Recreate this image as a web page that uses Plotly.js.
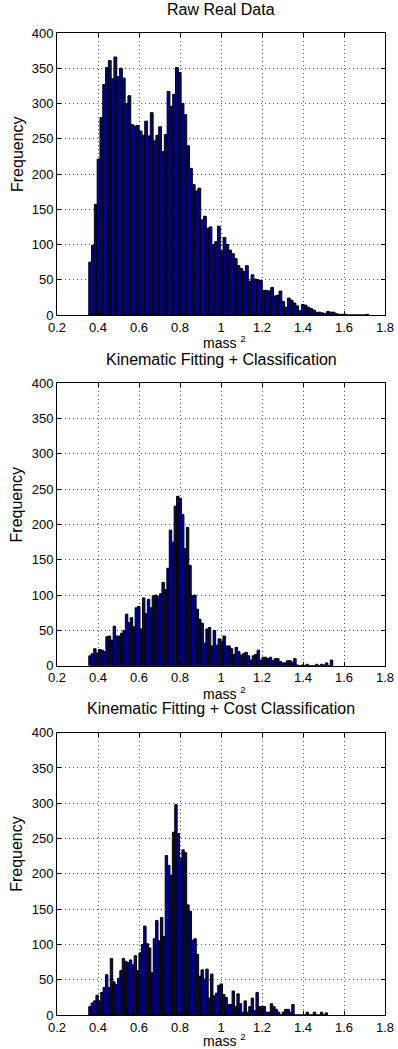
<!DOCTYPE html>
<html>
<head>
<meta charset="utf-8">
<script src="https://cdn.plot.ly/plotly-3.0.1.min.js"></script>
<style>html,body{margin:0;padding:0;background:#fff}#chart{width:398px;height:1049px}</style>
</head>
<body>
<div id="chart"></div>
<script>
// ---- data (100 bins per panel) ----
const panelTitles = ["Raw Real Data", "Kinematic Fitting + Classification", "Kinematic Fitting + Cost Classification"];
const binStarts = [0.355, 0.355, 0.355];
const binWidths = [0.01365, 0.0119, 0.01165];

const rawCounts = [
  75, 99, 157, 221, 280, 327, 351, 361, 335, 366,
  338, 350, 336, 300, 311, 270, 268, 269, 261, 255,
  275, 254, 287, 247, 255, 267, 232, 256, 317, 296,
  313, 351, 344, 300, 284, 240, 208, 185, 176, 180,
  135, 140, 123, 125, 100, 104, 126, 91, 110, 100,
  92, 87, 80, 70, 66, 62, 70, 48, 57, 51,
  50, 49, 35, 35, 34, 39, 27, 28, 34, 19,
  11, 24, 21, 17, 13, 6, 15, 14, 11, 9,
  7, 4, 4, 3, 2, 5, 4, 4, 2, 1,
  1, 1, 0, 0, 0, 0, 0, 0, 0, 1
];
const classCounts = [
  14, 17, 24, 18, 23, 22, 20, 41, 42, 36,
  56, 42, 42, 46, 50, 73, 61, 68, 55, 82,
  84, 52, 96, 74, 94, 82, 99, 100, 98, 102,
  118, 108, 138, 192, 175, 226, 240, 237, 214, 166,
  196, 142, 99, 100, 80, 66, 60, 32, 52, 54,
  28, 50, 29, 38, 35, 42, 28, 28, 24, 16,
  26, 20, 15, 17, 19, 14, 8, 14, 16, 22,
  8, 12, 12, 10, 12, 7, 10, 10, 6, 4,
  4, 7, 7, 5, 10, 1, 0, 1, 0, 2,
  0, 0, 0, 2, 0, 2, 1, 4, 0, 8
];
const costCounts = [
  12, 17, 20, 28, 20, 32, 39, 57, 39, 80,
  47, 43, 52, 63, 80, 76, 74, 78, 71, 84,
  63, 88, 100, 126, 101, 95, 60, 108, 134, 105,
  138, 111, 226, 212, 198, 259, 298, 257, 222, 234,
  230, 156, 147, 106, 108, 86, 55, 64, 51, 65,
  24, 58, 27, 31, 42, 44, 29, 25, 15, 15,
  34, 12, 30, 16, 4, 20, 4, 12, 24, 6,
  32, 12, 12, 12, 4, 4, 16, 12, 8, 4,
  0, 4, 8, 8, 4, 15, 0, 0, 0, 0,
  0, 4, 0, 0, 4, 0, 0, 4, 0, 3
];
const xTickVals = [0.2, 0.4, 0.6, 0.8, 1.0, 1.2, 1.4, 1.6, 1.8];
const xTickText = ["0.2", "0.4", "0.6", "0.8", "1", "1.2", "1.4", "1.6", "1.8"];
const yTickVals = [0, 50, 100, 150, 200, 250, 300, 350, 400];
const yTickText = ["0", "50", "100", "150", "200", "250", "300", "350", "400"];
const yLabel = "Frequency";
const xLabel = "mass <sup>2</sup>";

// ---- build ----
const allCounts = [rawCounts, classCounts, costCounts];
const FONT = "Liberation Sans, Arial, sans-serif";
const domains = [[0.7128, 1.0], [0.3557, 0.6433], [0.0, 0.2875]];

const traces = allCounts.map((counts, p) => {
  const centers = counts.map((_, i) => binStarts[p] + binWidths[p] * (i + 0.5));
  const sfx = p === 0 ? "" : String(p + 1);
  return {
    type: "bar",
    x: centers,
    y: counts,
    width: binWidths[p],
    xaxis: "x" + sfx,
    yaxis: "y" + sfx,
    marker: { color: "rgb(0,0,143)", line: { color: "#000", width: 1 } },
    hoverinfo: "skip"
  };
});

const layout = {
  width: 398, height: 1049,
  margin: { l: 57, r: 13, t: 33, b: 34 },
  showlegend: false,
  paper_bgcolor: "#fff", plot_bgcolor: "#fff",
  font: { family: FONT, size: 13, color: "#000" },
  bargap: 0,
  annotations: []
};

for (let p = 0; p < 3; p++) {
  const sfx = p === 0 ? "" : String(p + 1);
  const common = {
    showline: true, linecolor: "#000", linewidth: 1, mirror: "ticks",
    ticks: "inside", ticklen: 4, tickcolor: "#000",
    showgrid: true, gridcolor: "#555", griddash: "1px,3px", gridwidth: 1,
    zeroline: false, tickfont: { family: FONT, size: 13, color: "#000" }
  };
  layout["xaxis" + sfx] = Object.assign({}, common, {
    anchor: "y" + sfx, domain: [0, 1], range: [0.2, 1.8],
    tickmode: "array", tickvals: xTickVals, ticktext: xTickText, ticklabelstandoff: 0
  });
  layout["yaxis" + sfx] = Object.assign({}, common, {
    anchor: "x" + sfx, domain: domains[p], range: [0, 400],
    tickmode: "array", tickvals: yTickVals, ticktext: yTickText
  });
  const d = domains[p];
  layout.annotations.push({
    text: panelTitles[p], xref: "paper", yref: "paper", x: 0.5, y: d[1],
    xanchor: "center", yanchor: "middle", yshift: 24, showarrow: false,
    font: { family: FONT, size: 16, color: "#000" }
  });
  layout.annotations.push({
    text: yLabel, xref: "paper", yref: "paper", x: -0.122, y: (d[0] + d[1]) / 2,
    xanchor: "center", yanchor: "middle", textangle: -90, yshift: 20, showarrow: false,
    font: { family: FONT, size: 16, color: "#000" }
  });
  layout.annotations.push({
    text: xLabel, xref: "paper", yref: "paper", x: 0.51, y: d[0],
    xanchor: "center", yanchor: "top", yshift: p === 2 ? -14 : -16, showarrow: false,
    font: { family: FONT, size: 14, color: "#000" }
  });
}

Plotly.newPlot("chart", traces, layout, { displayModeBar: false, staticPlot: true });
</script>
</body>
</html>
